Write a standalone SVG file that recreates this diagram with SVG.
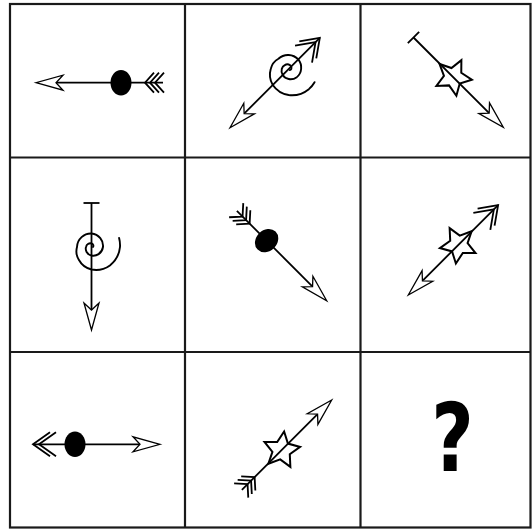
<svg xmlns="http://www.w3.org/2000/svg" xmlns:xlink="http://www.w3.org/1999/xlink" width="532" height="529" viewBox="0 0 532 529">
<style>
.grid{stroke:#1a1a1a;stroke-width:2.2;fill:none}
.shaft{stroke:#000;stroke-width:1.8;fill:none}
.head{fill:#fff;stroke:#000;stroke-width:1.3;stroke-linejoin:miter}
.ln{stroke:#000;stroke-width:1.8;fill:none;stroke-linecap:butt}
.spiral{stroke:#000;stroke-width:1.9;fill:none;stroke-linecap:round}
.star{stroke:#000;stroke-width:1.9;fill:none;stroke-linejoin:miter}
.q{font-family:"DejaVu Sans","Liberation Sans",sans-serif;font-weight:bold;font-size:94px;fill:#000}
</style>
<defs>
<path id="head" class="head" d="M0,0 L-27,-7.5 L-20,0 L-27,7.5 Z"/>
<line id="shaft" class="shaft" x1="-127" y1="0" x2="-20" y2="0"/>
<ellipse id="dot" cx="-85" cy="0" rx="10.5" ry="12.7" fill="#000"/>
<path id="star" class="star" transform="translate(-71,0) scale(1.05)" d="M14.37,-10.83 L8.8,-0.15 L14.75,10.32 L2.87,8.3 L-5.26,17.21 L-7,5.3 L-18,0.31 L-7.2,-5 L-5.86,-17.02 L2.6,-8.4 Z"/>
<path id="spiral" class="spiral" transform="translate(-83,0) rotate(-90)" d="M27.6,-9 A28.7,28.7 0 0 1 28.5,0 A27 27 0 0 1 18.4,18.4 A24 24 0 0 1 0,22.5 A20 20 0 0 1 -12.7,12.7 A16 16 0 0 1 -14.5,0 A14 14 0 0 1 -9.9,-9.9 A13.7 13.7 0 0 1 0,-13.5 A13 13 0 0 1 8.8,-8.8 A12 12 0 0 1 11.5,0 A10.7 10.7 0 0 1 7.1,7.1 A9.2 9.2 0 0 1 0,8.5 A7.7 7.7 0 0 1 -4.9,4.9 A6.2 6.2 0 0 1 -5.5,0 A5 5 0 0 1 -3.2,-3.2 A4 4 0 0 1 0,-3.5 A3 3 0 0 1 1.8,-1.8 A2 2 0 0 1 1.5,0"/>
<path id="tbar" class="ln" d="M-127,-8 L-127,8"/>
<path id="dchev" class="ln" d="M-110,-12 L-127,0 L-110,12 M-104,-12 L-121,0 L-104,12"/>
<path id="feath" class="ln" d="M-118,-10 L-109,0 L-118,10 M-123,-10 L-114,0 L-123,10 M-128,-10 L-119,0 L-128,10"/>
</defs>
<g id="grid">
<rect class="grid" x="10" y="4" width="520.5" height="523.5"/>
<line class="grid" x1="185" y1="4" x2="185" y2="527.5"/>
<line class="grid" x1="360.5" y1="4" x2="360.5" y2="527.5"/>
<line class="grid" x1="10" y1="157.5" x2="530.5" y2="157.5"/>
<line class="grid" x1="10" y1="352" x2="530.5" y2="352"/>
</g>
<g id="cell1" transform="translate(36,82.7) rotate(180)">
<use xlink:href="#shaft"/><use xlink:href="#head"/><use xlink:href="#dot"/><use xlink:href="#feath"/>
</g>
<g id="cell2" transform="translate(230,127.7) rotate(135)">
<use xlink:href="#shaft"/><use xlink:href="#head"/><use xlink:href="#spiral"/><use xlink:href="#dchev"/>
</g>
<g id="cell3" transform="translate(503.3,127.3) rotate(45)">
<use xlink:href="#shaft"/><use xlink:href="#head"/><use xlink:href="#star"/><use xlink:href="#tbar"/>
</g>
<g id="cell4" transform="translate(91.5,330) rotate(90)">
<use xlink:href="#shaft"/><use xlink:href="#head"/><use xlink:href="#spiral"/><use xlink:href="#tbar"/>
</g>
<g id="cell5" transform="translate(326.7,300.7) rotate(45)">
<use xlink:href="#shaft"/><use xlink:href="#head"/><use xlink:href="#dot"/><use xlink:href="#feath"/>
</g>
<g id="cell6" transform="translate(408.3,295) rotate(135)">
<use xlink:href="#shaft"/><use xlink:href="#head"/><use xlink:href="#star"/><use xlink:href="#dchev"/>
</g>
<g id="cell7" transform="translate(160,444.3) rotate(0)">
<use xlink:href="#shaft"/><use xlink:href="#head"/><use xlink:href="#dot"/><use xlink:href="#dchev"/>
</g>
<g id="cell8" transform="translate(331.7,400) rotate(-45)">
<use xlink:href="#shaft"/><use xlink:href="#head"/><use xlink:href="#star"/><use xlink:href="#feath"/>
</g>
<g id="cell9">
<text class="q" transform="translate(452.5,471) scale(0.78,1)" x="0" y="0" text-anchor="middle">?</text>
</g>
</svg>
